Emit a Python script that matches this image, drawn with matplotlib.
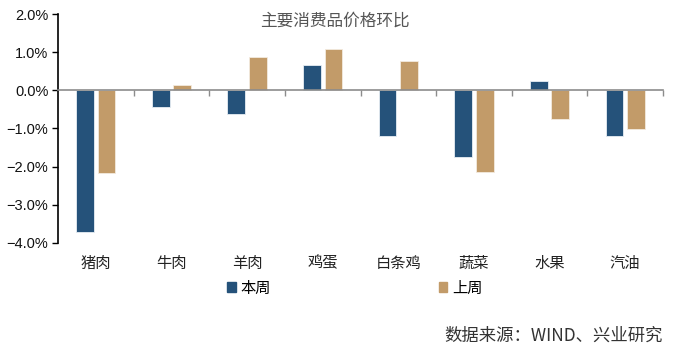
import matplotlib
matplotlib.use("Agg")
import matplotlib.pyplot as plt
import numpy as np
from matplotlib.patches import Patch

plt.rcParams['font.family'] = ['Noto Sans CJK SC', 'DejaVu Sans']

categories = ['猪肉', '牛肉', '羊肉', '鸡蛋', '白条鸡', '蔬菜', '水果', '汽油']
this_week = [-3.72, -0.43, -0.63, 0.67, -1.19, -1.75, 0.25, -1.19]
last_week = [-2.17, 0.15, 0.87, 1.07, 0.78, -2.15, -0.76, -1.01]
yticks = [-4, -3, -2, -1, 0, 1, 2]

blue = '#25527A'
tan = '#C29B69'

fig = plt.figure(figsize=(6.81, 3.52), dpi=100)
ax = fig.add_axes([58 / 681, 1 - 243 / 352, 605 / 681, 229 / 352])

x = np.arange(len(categories))
w = 0.235
ax.bar(x - 0.142, this_week, w, color=blue, edgecolor='#E8EEF3', linewidth=0.6)
ax.bar(x + 0.142, last_week, w, color=tan, edgecolor='#F3EADF', linewidth=0.6)

ax.set_xlim(-0.5, len(categories) - 0.5)
ax.set_ylim(-4, 2)
ax.set_yticks(yticks)
ax.set_yticklabels([f'{v:.1f}%'.replace('-', '\u2212') for v in yticks], fontsize=10.5,
                   family='Liberation Sans', color='#111111')
ax.tick_params(axis='y', direction='out', length=4, width=1, color='black', pad=3)

for s in ['top', 'right']:
    ax.spines[s].set_visible(False)
ax.spines['left'].set_color('black')
ax.spines['left'].set_linewidth(1.2)
ax.spines['bottom'].set_position(('data', 0))
ax.spines['bottom'].set_color('#8C8C8C')
ax.spines['bottom'].set_linewidth(1.2)
ax.set_xticks(np.arange(0.5, len(categories), 1.0))
ax.set_xticklabels([])
ax.tick_params(axis='x', direction='out', length=4, width=1, color='#8C8C8C')

for i, c in enumerate(categories):
    ax.text(i, -0.088, c, transform=ax.get_xaxis_transform(), ha='center', va='center',
            fontsize=11, color='#222222')

ax.text(0.458, 0.97, '主要消费品价格环比', transform=ax.transAxes, ha='center', va='center',
        fontsize=12, color='#555555')

handles = [Patch(color=blue, label='本周'), Patch(color=tan, label='上周')]
fig.legend(handles=handles, loc='center', bbox_to_anchor=(355 / 681, 1 - 288 / 352), ncol=2,
           frameon=False, fontsize=11, handlelength=0.55, handleheight=0.55, handletextpad=0.3,
           columnspacing=11.0)

fig.text(663 / 681, 1 - 336 / 352, '数据来源：WIND、兴业研究', ha='right', va='center',
         fontsize=12.5, color='#333333')

fig.savefig('out.png', dpi=100)
